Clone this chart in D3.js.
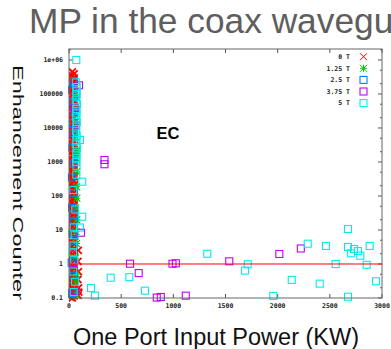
<!DOCTYPE html>
<html>
<head>
<meta charset="utf-8">
<script src="https://cdn.jsdelivr.net/npm/d3@7"></script>
<style>
  body { margin: 0; background: #fff; }
  text { font-family: "Liberation Sans", Arial, sans-serif; }
  .tick-label { font-family: "DejaVu Sans Mono", monospace; font-size: 6.5px; font-weight: bold; fill: #222; }
</style>
</head>
<body>
<svg id="chart" width="391" height="349"></svg>
<script>
// Legend entries (magnetic field) and gnuplot default colours
const seriesNames = ["0 T", "1.25 T", "2.5 T", "3.75 T", "5 T"];
const seriesColors = ["#ff0000", "#00c000", "#0080ff", "#c000ff", "#00eeee"];
const seriesShapes = ["cross", "star", "square", "square", "square"];

const xTicks = [0, 500, 1000, 1500, 2000, 2500, 3000];
const yTicks = [0.1, 1, 10, 100, 1000, 10000, 100000, 1000000];
const yTickLabels = ["0.1", "1", "10", "100", "1000", "10000", "100000", "1e+06"];

// [input power KW, enhancement counter]
const field0T = [
  [13, 0.107], [11, 0.16], [15, 0.23], [12, 0.33], [14, 0.48], [10, 0.7], [16, 1.02], [12, 1.5],
  [14, 2.15], [11, 3.1], [15, 4.6], [13, 6.7], [10, 9.8], [14, 14], [12, 21], [16, 30],
  [11, 44], [13, 64], [15, 93], [12, 135], [14, 196], [10, 285], [13, 415], [15, 605],
  [11, 880], [14, 1280], [12, 1860], [16, 2700], [13, 3930], [11, 5720], [15, 8320], [12, 12100],
  [14, 17600], [10, 25600], [13, 37300], [15, 54200], [11, 78900], [14, 114800], [12, 167000], [13, 243000],
  [14, 353000],
  [32, 0.1], [30, 0.13], [34, 0.17], [29, 0.22], [33, 0.3], [31, 0.38], [35, 0.5], [30, 0.66],
  [32, 0.85], [28, 1.1], [34, 1.5], [31, 1.9], [33, 2.5], [29, 3.3], [32, 4.3], [35, 5.6],
  [30, 7.4], [33, 9.5], [31, 12.6], [29, 16.6], [34, 21], [32, 28], [30, 37], [33, 48],
  [31, 63], [35, 83], [29, 107], [32, 141], [34, 186], [30, 240], [33, 316], [31, 417],
  [29, 537], [32, 708], [35, 933], [30, 1200], [33, 1585], [31, 2090], [34, 2690], [29, 3550],
  [32, 4680], [30, 6030], [33, 7940], [31, 10470], [35, 13490], [29, 17780], [32, 23440], [34, 30200],
  [30, 39800], [33, 52480], [31, 67600], [29, 89100], [32, 117500], [34, 151400], [30, 199500], [33, 263000],
  [31, 338800], [32, 446700],
  [50, 0.115], [48, 0.15], [52, 0.2], [47, 0.26], [51, 0.34], [49, 0.44], [53, 0.58], [48, 0.76],
  [50, 0.98], [46, 1.3], [52, 1.7], [49, 2.2], [51, 2.9], [47, 3.8], [50, 5], [53, 6.5],
  [48, 8.5], [51, 11], [49, 14.5], [47, 19], [52, 25], [50, 32], [48, 42], [51, 55],
  [49, 72], [53, 95], [47, 123], [50, 162], [52, 213], [48, 275], [51, 363], [49, 470],
  [47, 617], [50, 813], [53, 1047], [48, 1380], [51, 1820], [49, 2340], [52, 3090], [47, 4070],
  [50, 5250], [48, 6920], [51, 9120], [49, 11750], [53, 15490], [47, 20420], [50, 26300], [52, 34670],
  [48, 45700], [51, 58900], [49, 77620], [47, 102300], [50, 131800], [52, 173800], [48, 229100], [50, 295100],
  [49, 389000],
  [88, 0.12], [92, 0.2], [85, 0.35], [90, 0.6], [86, 1.2], [94, 0.15], [89, 2.5]
];

const field125T = [
  [74, 0.12], [65, 0.3], [70, 0.5], [60, 1.5], [72, 4], [66, 9], [74, 20], [62, 45],
  [75, 86], [73, 186], [74, 520], [70, 1300], [74, 2000], [75, 2240], [68, 5500], [62, 15000],
  [70, 35000], [64, 80000]
];

const field25T = [
  [30, 0.14], [45, 0.45], [25, 1.1], [40, 3], [35, 8], [50, 18], [42, 28], [30, 45],
  [42, 120], [28, 350], [48, 900], [33, 2600], [45, 7000], [38, 14000], [52, 30000], [40, 60000],
  [30, 130000], [44, 240000]
];

const field375T = [
  [58, 0.16], [40, 1.05], [115, 8.3], [96, 180000], [70, 100000], [55, 40000], [65, 12000],
  [340, 1145], [340, 858], [585, 1.02], [668, 0.54], [992, 1.02], [1024, 1.05], [841, 0.103],
  [880, 0.107], [1119, 0.117], [1536, 1.2], [2016, 1.97], [2222, 2.86]
];

const field5T = [
  [70, 1000000], [66, 220000], [74, 160000], [68, 120000], [72, 90000], [65, 65000], [76, 50000],
  [69, 36000], [73, 27000], [66, 20000], [75, 15000], [70, 11000], [105, 4460], [67, 8000], [74, 6000],
  [71, 4400], [65, 3300], [76, 2500], [69, 1800], [73, 1300], [67, 1000], [72, 750], [70, 420],
  [127, 263], [40, 150], [60, 40], [127, 24.6], [45, 12], [105, 11.8], [55, 7], [42, 3.5],
  [38, 2.2], [50, 1.3], [40, 0.6], [58, 0.3], [45, 0.15],
  [1325, 2.0], [728, 0.164], [1687, 0.64], [1713, 0.98], [1958, 0.115], [2135, 0.34], [2288, 3.95],
  [2403, 0.264], [2463, 3.4], [2556, 1.0], [2674, 10.7], [2674, 3.16], [2703, 2.06], [2732, 2.76],
  [2770, 2.41], [2792, 1.75], [2674, 0.109], [2853, 0.95], [2882, 3.4], [2943, 0.31], [400, 0.395],
  [578, 0.41], [211, 0.197], [249, 0.117]
];

const allSeries = [field0T, field125T, field25T, field375T, field5T];
const thresholdLevel = 1;

const svg = d3.select("#chart");
const x = d3.scaleLinear().domain([0, 3000]).range([69, 382]);
const y = d3.scaleLog().domain([0.1, 2.1e6]).range([298, 49]);

// keeps the dense 0 T band inside the frame on the left
svg.append("clipPath").attr("id", "bandClip")
  .append("rect").attr("x", 69).attr("y", 40).attr("width", 320).attr("height", 262);

// Title (cut by the page edge like the slide)
svg.append("text")
  .attr("x", 29).attr("y", 33)
  .attr("font-size", 35.3)
  .attr("fill", "#5e5e5e")
  .text("MP in the coax waveguide");

// Ticks, mirrored on all four sides
const tickG = svg.append("g").attr("stroke", "#555").attr("stroke-width", 1);
xTicks.forEach(t => {
  tickG.append("line").attr("x1", x(t)).attr("x2", x(t)).attr("y1", 298).attr("y2", 294);
  tickG.append("line").attr("x1", x(t)).attr("x2", x(t)).attr("y1", 49).attr("y2", 53);
});
const minorTicks = [];
yTicks.forEach(t => { minorTicks.push(t * 2, t * 5); });
yTicks.forEach(t => {
  tickG.append("line").attr("x1", 69).attr("x2", 73).attr("y1", y(t)).attr("y2", y(t));
  tickG.append("line").attr("x1", 382).attr("x2", 378).attr("y1", y(t)).attr("y2", y(t));
});
minorTicks.filter(t => t < 2.1e6).forEach(t => {
  tickG.append("line").attr("x1", 69).attr("x2", 71).attr("y1", y(t)).attr("y2", y(t));
  tickG.append("line").attr("x1", 382).attr("x2", 380).attr("y1", y(t)).attr("y2", y(t));
});

// Tick labels
svg.append("g").selectAll("text").data(xTicks).join("text")
  .attr("class", "tick-label")
  .attr("x", d => x(d)).attr("y", 307.5)
  .attr("text-anchor", "middle")
  .text(d => d);
svg.append("g").selectAll("text").data(yTicks).join("text")
  .attr("class", "tick-label")
  .attr("x", 63).attr("y", d => y(d)).attr("dy", "0.35em")
  .attr("text-anchor", "end")
  .text((d, i) => yTickLabels[i]);

// Markers
function drawMarker(g, shape, color, px, py, sw) {
  const h = 3.5;
  if (shape === "square") {
    g.append("rect").attr("x", px - h).attr("y", py - h).attr("width", 2 * h).attr("height", 2 * h)
      .attr("fill", "none").attr("stroke", color).attr("stroke-width", 1.1);
  } else {
    const p = `M${px - h},${py - h}L${px + h},${py + h}M${px - h},${py + h}L${px + h},${py - h}`
      + (shape === "star" ? `M${px - h},${py}H${px + h}M${px},${py - h}V${py + h}` : "");
    g.append("path").attr("d", p).attr("fill", "none").attr("stroke", color).attr("stroke-width", sw);
  }
}

const pointsG = svg.append("g");
allSeries.forEach((data, i) => {
  const g = pointsG.append("g");
  if (i === 0) g.attr("clip-path", "url(#bandClip)");
  data.forEach(d => drawMarker(g, seriesShapes[i], seriesColors[i], x(d[0]), y(d[1]), i === 0 ? 1.8 : 1.1));
});

// Counter = 1 reference line
svg.append("line")
  .attr("x1", x(0)).attr("x2", x(3000))
  .attr("y1", y(thresholdLevel)).attr("y2", y(thresholdLevel))
  .attr("stroke", "#ff0000").attr("stroke-width", 1);

// Border
svg.append("rect")
  .attr("x", 69).attr("y", 49).attr("width", 313).attr("height", 249)
  .attr("fill", "none").attr("stroke", "#666").attr("stroke-width", 1);

// Legend
const legend = svg.append("g");
seriesNames.forEach((name, i) => {
  const ly = 56.7 + i * 11.6;
  legend.append("text").attr("class", "tick-label")
    .attr("x", 350).attr("y", ly).attr("dy", "0.35em").attr("text-anchor", "end")
    .text(name);
  drawMarker(legend, seriesShapes[i], seriesColors[i], 363.5, ly, 1);
});

// Annotation
svg.append("text")
  .attr("x", 168).attr("y", 139)
  .attr("text-anchor", "middle")
  .attr("font-size", 16.5).attr("font-weight", "bold")
  .text("EC");

// Axis titles
svg.append("text")
  .attr("x", 216).attr("y", 345)
  .attr("text-anchor", "middle")
  .attr("font-size", 23.5).attr("fill", "#111")
  .text("One Port Input Power (KW)");
svg.append("text")
  .attr("transform", "translate(12.5,182.5) rotate(90) scale(1,0.66)")
  .attr("text-anchor", "middle")
  .attr("font-size", 23.5).attr("fill", "#111")
  .text("Enhancement Counter");
</script>
</body>
</html>
